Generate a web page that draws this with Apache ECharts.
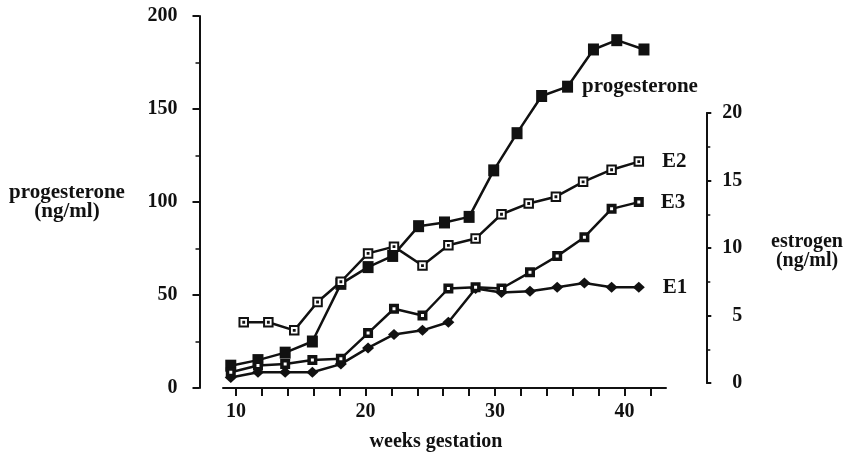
<!DOCTYPE html>
<html>
<head>
<meta charset="utf-8">
<script src="https://cdn.jsdelivr.net/npm/echarts@6/dist/echarts.min.js"></script>
<style>
  html, body { margin: 0; padding: 0; background: #fff; }
  #chart { width: 854px; height: 455px; }
</style>
</head>
<body>
<div id="chart"></div>
<script>
// Hormone levels across gestation
const seriesNames = ['progesterone', 'E2', 'E3', 'E1'];

// progesterone (ng/ml), left axis
const weeksProg = [9.6, 11.7, 13.8, 15.9, 18.1, 20.2, 22.1, 24.1, 26.1, 28.0, 29.9, 31.7, 33.6, 35.6, 37.6, 39.4, 41.5];
const progesterone = [12, 15, 19, 25, 56, 65, 71, 87, 89, 92, 117, 137, 157, 162, 182, 187, 182];

// estrogens (ng/ml), right axis
const weeksE2 = [10.6, 12.5, 14.5, 16.3, 18.1, 20.2, 22.2, 24.4, 26.4, 28.5, 30.5, 32.6, 34.7, 36.8, 39.0, 41.1];
const e2 = [4.5, 4.5, 3.9, 6.0, 7.5, 9.6, 10.1, 8.7, 10.2, 10.7, 12.5, 13.3, 13.8, 14.9, 15.8, 16.4];

const weeksE = [9.6, 11.7, 13.8, 15.9, 18.1, 20.2, 22.2, 24.4, 26.4, 28.5, 30.5, 32.7, 34.8, 36.9, 39.0, 41.1];
const e3 = [0.8, 1.3, 1.4, 1.7, 1.8, 3.7, 5.5, 5.0, 7.0, 7.1, 7.0, 8.2, 9.4, 10.8, 12.9, 13.4];
const e1 = [0.4, 0.8, 0.8, 0.8, 1.4, 2.6, 3.6, 3.9, 4.5, 7.0, 6.7, 6.8, 7.1, 7.4, 7.1, 7.1];

// axis ticks
const weekTicks = [10, 12, 14, 16, 18, 20, 22, 24, 26, 28, 30, 32, 34, 36, 38, 40, 42];
const weekLabels = [10, 20, 30, 40];

// index of the progesterone point carrying the series name
const progLabelIndex = 13;

const FONT = '"Liberation Serif", "Times New Roman", serif';
const INK = '#111';

function pairs(xs, ys) {
  return xs.map((x, i) => [x, ys[i]]);
}

function labelled(data, idx, text, distance) {
  return data.map((d, i) => i === idx ? {
    value: d,
    label: {
      show: true, position: 'right', distance: distance, formatter: text,
      color: INK, fontFamily: FONT, fontWeight: 'bold', fontSize: 21
    }
  } : d);
}

// open square with a small centre dot
const dotSquare = 'path://M0,0L10,0L10,10L0,10Z M4.5,4.5L5.5,4.5L5.5,5.5L4.5,5.5Z';

const xAxisBase = {
  type: 'value', min: 9, max: 43.2
};

const option = {
  animation: false,
  backgroundColor: '#fff',
  grid: [
    { left: 223, right: 188, top: 16, bottom: 67 },
    { left: 223, right: 188, top: 113, bottom: 72 }
  ],
  xAxis: [
    Object.assign({}, xAxisBase, {
      gridIndex: 0,
      splitLine: { show: false },
      axisLine: { show: true, lineStyle: { color: INK, width: 2 } },
      axisTick: { show: true, inside: false, length: 8, customValues: weekTicks, lineStyle: { color: INK, width: 2 } },
      axisLabel: {
        customValues: weekLabels, margin: 14,
        color: INK, fontFamily: FONT, fontWeight: 'bold', fontSize: 20
      }
    }),
    Object.assign({}, xAxisBase, {
      gridIndex: 1, show: false, splitLine: { show: false }
    })
  ],
  yAxis: [
    {
      type: 'value', gridIndex: 0, position: 'left', offset: 23.5,
      min: 0, max: 200, interval: 50,
      splitLine: { show: false },
      axisLine: { show: true, lineStyle: { color: INK, width: 2 } },
      axisTick: { show: true, length: 7, lineStyle: { color: INK, width: 2 } },
      minorTick: { show: true, splitNumber: 2, length: 4, lineStyle: { color: INK, width: 1.5 } },
      axisLabel: { margin: 22, color: INK, fontFamily: FONT, fontWeight: 'bold', fontSize: 20 }
    },
    {
      type: 'value', gridIndex: 1, position: 'right', offset: 40.3,
      min: 0, max: 20, interval: 5,
      splitLine: { show: false },
      axisLine: { show: true, lineStyle: { color: INK, width: 2 } },
      axisTick: { show: true, length: 5, lineStyle: { color: INK, width: 2 } },
      minorTick: { show: true, splitNumber: 2, length: 4, lineStyle: { color: INK, width: 1.5 } },
      axisLabel: { margin: 36, align: 'right', color: INK, fontFamily: FONT, fontWeight: 'bold', fontSize: 20 }
    }
  ],
  graphic: [
    {
      type: 'text',
      style: {
        text: 'progesterone\n(ng/ml)', x: 0, y: 0,
        align: 'center', verticalAlign: 'middle', lineHeight: 19,
        fill: INK, font: 'bold 21px ' + FONT
      },
      x: 67, y: 202
    },
    {
      type: 'text',
      style: {
        text: 'estrogen\n(ng/ml)', x: 0, y: 0,
        align: 'center', verticalAlign: 'middle', lineHeight: 19,
        fill: INK, font: 'bold 20px ' + FONT
      },
      x: 807, y: 251
    },
    {
      type: 'text',
      style: {
        text: 'weeks gestation', x: 0, y: 0,
        align: 'center', verticalAlign: 'middle',
        fill: INK, font: 'bold 20px ' + FONT
      },
      x: 436, y: 442
    }
  ],
  series: [
    {
      name: seriesNames[0], type: 'line', xAxisIndex: 0, yAxisIndex: 0,
      data: labelled(pairs(weeksProg, progesterone), progLabelIndex, seriesNames[0], 9),
      symbol: 'rect', symbolSize: [11, 12],
      lineStyle: { color: INK, width: 2.5 },
      itemStyle: { color: INK }
    },
    {
      name: seriesNames[3], type: 'line', xAxisIndex: 1, yAxisIndex: 1,
      data: labelled(pairs(weeksE, e1), e1.length - 1, seriesNames[3], 18),
      symbol: 'diamond', symbolSize: [12, 11],
      lineStyle: { color: INK, width: 2.5 },
      itemStyle: { color: INK }
    },
    {
      name: seriesNames[2], type: 'line', xAxisIndex: 1, yAxisIndex: 1,
      data: labelled(pairs(weeksE, e3), e3.length - 1, seriesNames[2], 17),
      symbol: 'rect', symbolSize: 6.5,
      lineStyle: { color: INK, width: 2.5 },
      itemStyle: { color: '#fff', borderColor: INK, borderWidth: 3.5 }
    },
    {
      name: seriesNames[1], type: 'line', xAxisIndex: 1, yAxisIndex: 1,
      data: labelled(pairs(weeksE2, e2), e2.length - 1, seriesNames[1], 18),
      symbol: dotSquare, symbolSize: 8.5,
      lineStyle: { color: INK, width: 2.5 },
      itemStyle: { color: '#fff', borderColor: INK, borderWidth: 2 }
    }
  ]
};

const chart = echarts.init(document.getElementById('chart'), null, { renderer: 'canvas' });
chart.setOption(option);
</script>
</body>
</html>
